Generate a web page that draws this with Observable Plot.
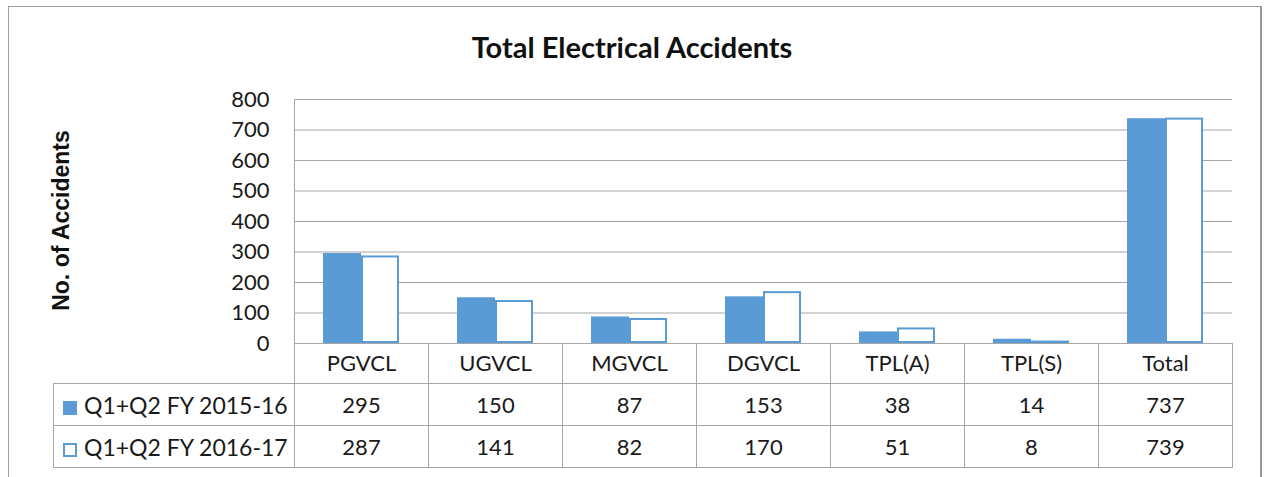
<!DOCTYPE html>
<html>
<head>
<meta charset="utf-8">
<script src="https://cdn.jsdelivr.net/npm/d3@7"></script>
<script src="https://cdn.jsdelivr.net/npm/@observablehq/plot@0.6"></script>
<style>
  html, body { margin: 0; padding: 0; background: #fff; overflow: hidden; }
  #wrap { position: relative; width: 1264px; height: 477px; font-family: Lato, sans-serif; color: #1a1a1a; }
  #outer { position: absolute; left: 8px; top: 6px; width: 1254px; height: 520px; border: 1px solid #a0a0a0; border-right: 2px solid #9a9a9a; box-sizing: border-box; }
  #title { position: relative; height: 70px; box-sizing: border-box; padding-top: 29px; line-height: 32px; text-align: center; font: bold 29px Lato, sans-serif; color: #111; }
  #chart { position: relative; }
  #chart svg { overflow: visible; }
  #table { position: absolute; border-collapse: collapse; table-layout: fixed; font: 22px Lato, sans-serif; color: #1a1a1a; }
  #table td { border: 1px solid #a6a6a6; padding: 0; text-align: center; vertical-align: middle; white-space: nowrap; }
  #table td.blank { border-top: none; border-left: none; }
  #table td.leg { text-align: left; padding-left: 9px; font-size: 23px; }
  .sw { display: inline-block; width: 14px; height: 14px; box-sizing: border-box; margin-right: 7px; vertical-align: -1px; }
</style>
</head>
<body>
<div id="wrap">
  <div id="outer"></div>
  <div id="title">Total Electrical Accidents</div>
  <div id="chart"></div>
</div>
<script>
const categories = ["PGVCL", "UGVCL", "MGVCL", "DGVCL", "TPL(A)", "TPL(S)", "Total"];
const series = ["Q1+Q2 FY 2015-16", "Q1+Q2 FY 2016-17"];
const values2015 = [295, 150, 87, 153, 38, 14, 737];
const values2016 = [287, 141, 82, 170, 51, 8, 739];
const yTicks = [0, 100, 200, 300, 400, 500, 600, 700, 800];
const seriesColor = "#5b9bd5";

const data = categories.flatMap((c, i) => [
  {category: c, series: series[0], value: values2015[i]},
  {category: c, series: series[1], value: values2016[i]}
]);

const chart = Plot.plot({
  width: 1264,
  height: 315,
  marginLeft: 293,
  marginRight: 32,
  marginTop: 29,
  marginBottom: 42,
  style: {fontFamily: "Lato, sans-serif", fontSize: "22px", color: "#1a1a1a", background: "transparent", overflow: "visible"},
  fx: {domain: categories, padding: 0, label: null},
  x: {domain: series, paddingInner: 0, paddingOuter: 0.74, axis: null},
  y: {domain: [0, 800], axis: null},
  color: {domain: series, range: [seriesColor, "#ffffff"]},
  marks: [
    Plot.gridY(yTicks, {stroke: "#a6a6a6", strokeOpacity: 1}),
    Plot.frame({facet: "super", anchor: "left", stroke: "#a6a6a6"}),
    Plot.barY(data, {fx: "category", x: "series", y: "value", fill: "series", stroke: seriesColor, strokeWidth: 2, inset: 1}),
    Plot.axisY(yTicks, {tickSize: 0, tickPadding: 25, label: null}),
    Plot.axisFx({anchor: "bottom", tickSize: 0, tickPadding: 12, label: null}),
    Plot.text(["No. of Accidents"], {facet: "super", frameAnchor: "left", textAnchor: "middle", dx: -233, dy: -1, rotate: -90, fontWeight: "bold", fontFamily: "Liberation Sans, Arial, sans-serif", fontSize: 23, fill: "#111"})
  ]
});
document.getElementById("chart").appendChild(chart);

// Data table below the axis, aligned to the Plot scales
const fx = chart.scale("fx");
const ys = chart.scale("y");
const bw = fx.bandwidth;
const colStart = fx.apply(categories[0]);
const tableLeft = 53;
const chartTop = 70;
const firstW = colStart - tableLeft;

const table = document.createElement("table");
table.id = "table";
table.style.left = tableLeft + "px";
table.style.top = (chartTop + ys.apply(0)) + "px";
table.style.width = (firstW + bw * categories.length) + "px";

const colgroup = document.createElement("colgroup");
const c0 = document.createElement("col"); c0.style.width = firstW + "px"; colgroup.appendChild(c0);
categories.forEach(() => { const c = document.createElement("col"); c.style.width = bw + "px"; colgroup.appendChild(c); });
table.appendChild(colgroup);

const r0 = document.createElement("tr"); r0.style.height = "40px";
const blank = document.createElement("td"); blank.className = "blank"; r0.appendChild(blank);
categories.forEach(() => r0.appendChild(document.createElement("td")));
table.appendChild(r0);

[values2015, values2016].forEach((vals, si) => {
  const tr = document.createElement("tr"); tr.style.height = "42px";
  const leg = document.createElement("td"); leg.className = "leg";
  const sw = document.createElement("span"); sw.className = "sw";
  if (si === 0) sw.style.background = seriesColor; else sw.style.border = "2px solid " + seriesColor;
  leg.appendChild(sw);
  leg.appendChild(document.createTextNode(series[si]));
  tr.appendChild(leg);
  vals.forEach(v => { const td = document.createElement("td"); td.textContent = v; tr.appendChild(td); });
  table.appendChild(tr);
});
document.getElementById("wrap").appendChild(table);
</script>
</body>
</html>
